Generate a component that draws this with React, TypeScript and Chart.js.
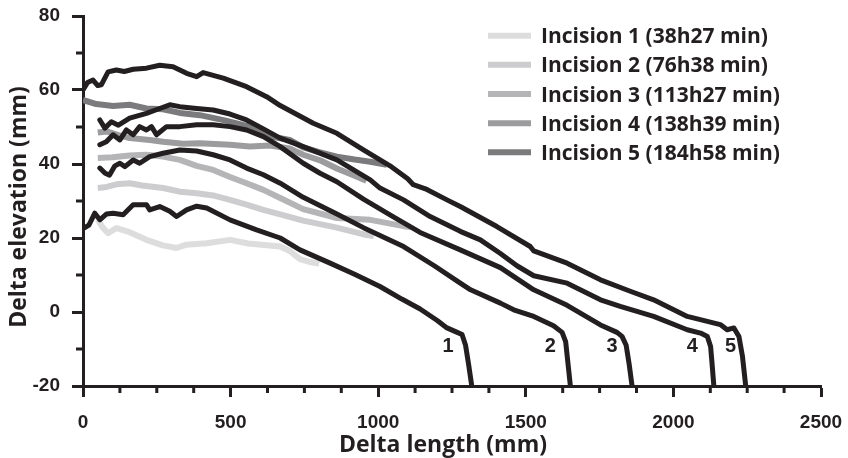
import React, { useEffect, useRef } from 'react';
import { Chart, registerables } from 'chart.js';

Chart.register(...registerables);

// ---------- data ----------
const profile1X = [0, 20, 40, 57, 80, 102, 136, 170, 215, 226, 260, 294, 317, 351, 385, 419, 498, 588, 668, 735, 837, 920, 1006, 1080, 1142, 1200, 1233, 1262, 1284, 1296, 1306, 1317];
const profile1Y = [22.5, 23.5, 26.7, 24.9, 26.5, 26.7, 26.3, 29, 29, 27.6, 28.5, 27.2, 25.8, 27.6, 28.6, 28.1, 24.9, 22.2, 20, 16.8, 13.2, 10.2, 6.9, 3.5, 0.8, -2.3, -4.3, -5.3, -6.1, -9, -14, -20];

const profile2X = [57, 75, 90, 108, 125, 142, 170, 192, 226, 271, 328, 385, 441, 498, 554, 611, 668, 746, 860, 950, 1086, 1190, 1278, 1313, 1414, 1459, 1527, 1594, 1623, 1635, 1643, 1651];
const profile2Y = [38.9, 37.5, 37, 39.5, 40.2, 39.3, 41.1, 40.2, 42, 42.9, 43.8, 43.5, 42.5, 41.1, 38.9, 37.1, 34.8, 31, 26.5, 22.8, 17.7, 12.5, 7.8, 6, 2.4, 0.6, -1.2, -3.7, -5.5, -8, -14, -20];

const profile3X = [57, 79, 102, 125, 147, 170, 192, 215, 232, 249, 283, 328, 385, 441, 498, 554, 611, 668, 746, 803, 860, 950, 1050, 1142, 1278, 1414, 1527, 1640, 1753, 1809, 1826, 1840, 1850, 1860];
const profile3Y = [45.2, 46, 47.9, 46.5, 49.2, 47.9, 50.1, 49.2, 50.1, 47.9, 50.1, 50.1, 50.6, 50.6, 50.1, 49.2, 47.4, 44.7, 40.2, 37.5, 35.2, 30.5, 25.8, 21.5, 16.8, 12, 6, 1.8, -3.5, -5.5, -6.6, -9, -14, -20];

const profile4X = [57, 74, 96, 120, 158, 215, 260, 294, 328, 385, 441, 498, 554, 611, 668, 746, 860, 973, 1006, 1086, 1176, 1278, 1346, 1414, 1470, 1527, 1640, 1753, 1820, 1933, 2047, 2092, 2115, 2126, 2131, 2137];
const profile4Y = [51.9, 49.7, 51.4, 50.5, 52.4, 53.7, 55, 56, 55.5, 55, 54.6, 53.5, 51.9, 49.5, 47, 44.7, 41.1, 35.7, 33.5, 30.3, 25.8, 21.8, 19.5, 15.8, 12.5, 9.8, 7.8, 3.3, 1.5, -1.2, -4.8, -5.7, -6.6, -9.3, -14, -20];

const profile5X = [0, 15, 34, 50, 62, 85, 113, 140, 170, 215, 260, 305, 351, 385, 407, 475, 554, 622, 668, 780, 860, 950, 1040, 1100, 1119, 1160, 1233, 1278, 1402, 1515, 1527, 1640, 1753, 1854, 1933, 2047, 2159, 2182, 2205, 2222, 2234, 2245];
const profile5Y = [60, 62, 62.7, 61.2, 61.4, 64.9, 65.4, 65, 65.6, 65.9, 66.7, 66.3, 64.5, 63.6, 64.7, 63.2, 60.9, 58.2, 55.8, 51, 48.3, 43.8, 39.5, 36, 34.4, 33.3, 30.3, 28.5, 23.1, 17.7, 16.5, 13.2, 8.7, 5.6, 3.3, -1.2, -3.4, -4.8, -4.3, -6.6, -12, -20];

const incision1X = [50, 65, 85, 113, 150, 215, 270, 317, 350, 419, 498, 560, 668, 700, 735, 770, 800];
const incision1Y = [25, 23, 21.3, 22.7, 21.8, 19.5, 18, 17.3, 18.2, 18.6, 19.5, 18.5, 17.7, 16.5, 14.3, 13.5, 13];

const incision2X = [50, 80, 113, 158, 200, 271, 330, 385, 441, 498, 554, 611, 668, 746, 860, 961, 985];
const incision2Y = [33.5, 33.8, 34.5, 34.8, 34.2, 33.5, 32.5, 32.1, 31.5, 30.3, 29, 27.6, 26.4, 24.7, 22.8, 20.8, 20.5];

const incision3X = [50, 100, 158, 215, 271, 328, 385, 441, 498, 554, 611, 668, 746, 860, 973, 1086, 1110];
const incision3Y = [41.6, 41.8, 42.3, 42.5, 42, 41.1, 39.5, 38.4, 36.5, 34.8, 33, 30.8, 27.8, 25.4, 24.9, 23.2, 23];

const incision4X = [50, 80, 120, 158, 226, 271, 340, 396, 498, 565, 633, 700, 746, 803, 860, 920, 960];
const incision4Y = [48.5, 48.8, 47.8, 47, 46.5, 46, 45.5, 45.6, 45.2, 44.7, 45, 44.2, 42.5, 41, 38.8, 36.8, 35.5];

const incision5X = [0, 45, 102, 158, 215, 271, 328, 396, 480, 565, 633, 700, 746, 800, 860, 920, 973, 1029];
const incision5Y = [57.3, 56.2, 55.7, 56, 55, 54.8, 53.8, 53.2, 51.8, 50.1, 47.5, 46.5, 44.5, 43.2, 42, 41.2, 40.6, 39.8];

const incisionLabels = [
  'Incision 1 (38h27 min)',
  'Incision 2 (76h38 min)',
  'Incision 3 (113h27 min)',
  'Incision 4 (138h39 min)',
  'Incision 5 (184h58 min)',
];
const incisionColors = ['#dddddd', '#cdcdcf', '#b5b5b7', '#9c9c9e', '#7b7b7d'];

const profileNumbers = ['1', '2', '3', '4', '5'];
const profileNumberX = [1237, 1583, 1792, 2064, 2194];
const profileNumberY = [-9.4, -9.4, -9.4, -9.4, -9.4];

const xTitle = 'Delta length (mm)';
const yTitle = 'Delta elevation (mm)';

const INK = '#231f20';
const TICK_FONT = '"Liberation Sans", Arial, sans-serif';
const TEXT_FONT = '"Open Sans", "Noto Sans", sans-serif';

const zip = (xs: number[], ys: number[]) => xs.map((x, i) => ({ x, y: ys[i] }));

const profiles = [
  zip(profile1X, profile1Y),
  zip(profile2X, profile2Y),
  zip(profile3X, profile3Y),
  zip(profile4X, profile4Y),
  zip(profile5X, profile5Y),
];
const incisions = [
  zip(incision1X, incision1Y),
  zip(incision2X, incision2Y),
  zip(incision3X, incision3Y),
  zip(incision4X, incision4Y),
  zip(incision5X, incision5Y),
];

const overlayPlugin = {
  id: 'overlay',
  afterDraw(chart: any) {
    const ctx = chart.ctx as CanvasRenderingContext2D;
    const xs = chart.scales.x;
    const ys = chart.scales.y;
    const area = chart.chartArea;
    ctx.save();
    // minor ticks
    ctx.strokeStyle = INK;
    ctx.lineWidth = 3;
    ctx.beginPath();
    xs.ticks.forEach((t: any) => {
      if (t.value % 500 !== 0) {
        const px = xs.getPixelForValue(t.value);
        ctx.moveTo(px, area.bottom);
        ctx.lineTo(px, area.bottom + 7);
      }
    });
    ys.ticks.forEach((t: any) => {
      if (t.value % 20 !== 0) {
        const py = ys.getPixelForValue(t.value);
        ctx.moveTo(area.left, py);
        ctx.lineTo(area.left - 7, py);
      }
    });
    ctx.stroke();

    // profile numbers
    ctx.fillStyle = INK;
    ctx.font = `bold 20px ${TICK_FONT}`;
    ctx.textAlign = 'center';
    ctx.textBaseline = 'middle';
    profileNumbers.forEach((s, i) => {
      ctx.fillText(s, xs.getPixelForValue(profileNumberX[i]), ys.getPixelForValue(profileNumberY[i]));
    });

    // axis titles
    ctx.font = `bold 23px ${TEXT_FONT}`;
    ctx.textAlign = 'center';
    ctx.textBaseline = 'alphabetic';
    ctx.fillText(xTitle, (area.left + area.right) / 2 - 9, 452);
    ctx.save();
    ctx.translate(26, 207);
    ctx.rotate(-Math.PI / 2);
    ctx.fillText(yTitle, 0, 0);
    ctx.restore();

    // legend
    ctx.font = `bold 21px ${TEXT_FONT}`;
    ctx.textAlign = 'left';
    ctx.textBaseline = 'alphabetic';
    incisionLabels.forEach((label, i) => {
      const y = 35.7 + i * 29.15;
      ctx.strokeStyle = incisionColors[i];
      ctx.lineWidth = 6;
      ctx.beginPath();
      ctx.moveTo(488, y);
      ctx.lineTo(531, y);
      ctx.stroke();
      ctx.fillStyle = INK;
      ctx.fillText(label, 541, y + 7.5);
    });
    ctx.restore();
  },
};

export default function App() {
  const ref = useRef<HTMLCanvasElement>(null);
  useEffect(() => {
    const datasets: any[] = [];
    profiles.forEach((d, i) => {
      datasets.push({
        label: 'Profile ' + profileNumbers[i],
        data: d,
        borderColor: INK,
        borderWidth: 5,
        borderJoinStyle: 'round',
        borderCapStyle: 'round',
        pointRadius: 0,
        tension: 0,
        order: 0,
      });
    });
    incisions.forEach((d, i) => {
      datasets.push({
        label: incisionLabels[i],
        data: d,
        borderColor: incisionColors[i],
        borderWidth: 6,
        borderJoinStyle: 'round',
        pointRadius: 0,
        tension: 0,
        order: 1 + (4 - i),
      });
    });
    const chart = new Chart(ref.current as HTMLCanvasElement, {
      type: 'line',
      data: { datasets },
      options: {
        responsive: false,
        animation: false,
        devicePixelRatio: 1,
        layout: { padding: { left: 0, right: 27, top: 16, bottom: 0 } },
        plugins: { legend: { display: false }, tooltip: { enabled: false } },
        scales: {
          x: {
            type: 'linear',
            min: 0,
            max: 2500,
            afterFit: (s: any) => {
              s.height = 72;
              s.paddingLeft = 0;
              s.paddingRight = 0;
            },
            ticks: {
              stepSize: 125,
              autoSkip: false,
              maxRotation: 0,
              padding: 14,
              color: INK,
              font: { family: TICK_FONT, weight: 'bold', size: 19 },
              callback: (v: any) => (Number(v) % 500 === 0 ? String(v) : ''),
            },
            grid: {
              drawOnChartArea: false,
              tickLength: 11,
              tickWidth: 3,
              tickColor: (c: any) => (c.tick && c.tick.value % 500 === 0 ? INK : 'rgba(0,0,0,0)'),
            },
            border: { display: true, color: INK, width: 3 },
          },
          y: {
            type: 'linear',
            min: -20,
            max: 80,
            afterFit: (s: any) => {
              s.width = 83;
              s.paddingTop = 0;
              s.paddingBottom = 0;
            },
            ticks: {
              stepSize: 10,
              autoSkip: false,
              padding: 12,
              color: INK,
              font: { family: TICK_FONT, weight: 'bold', size: 19 },
              callback: (v: any) => (Number(v) % 20 === 0 ? String(v) : ''),
            },
            grid: {
              drawOnChartArea: false,
              tickLength: 11,
              tickWidth: 3,
              tickColor: (c: any) => (c.tick && c.tick.value % 20 === 0 ? INK : 'rgba(0,0,0,0)'),
            },
            border: { display: true, color: INK, width: 3 },
          },
        },
      } as any,
      plugins: [overlayPlugin],
    });
    return () => chart.destroy();
  }, []);
  return (
    <div style={{ position: 'fixed', left: 0, top: 0, width: 848, height: 458, background: '#fff' }}>
      <canvas ref={ref} width={848} height={458} style={{ display: 'block', width: 848, height: 458 }} />
    </div>
  );
}
